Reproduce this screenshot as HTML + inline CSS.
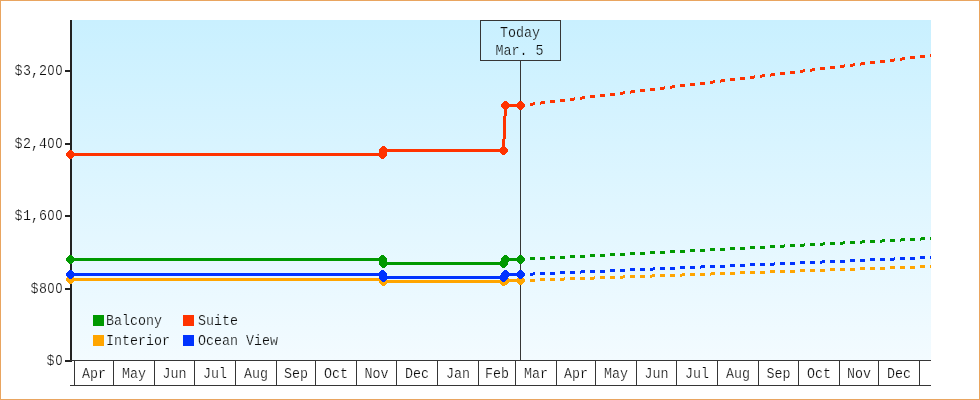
<!DOCTYPE html>
<html><head><meta charset="utf-8"><title>Price chart</title>
<style>
html,body{margin:0;padding:0;background:#fff;}
body{width:980px;height:400px;overflow:hidden;}
svg{display:block;}
svg{will-change:transform;}
text{font-family:"Liberation Mono",monospace;font-size:15px;fill:#0c0c0c;stroke-width:0.22px;}
.tw text{stroke:#fff;}
.tl text{stroke:#eefaff;}
.tt text{stroke:#cbf1ff;}
</style></head><body>
<svg width="980" height="400" viewBox="0 0 980 400">
<defs><linearGradient id="bg" x1="0" y1="0" x2="0" y2="1"><stop offset="0" stop-color="#c9f0ff"/><stop offset="1" stop-color="#f3fbff"/></linearGradient></defs>
<rect x="0" y="0" width="980" height="400" fill="#fff"/>
<rect x="0.5" y="0.5" width="979" height="399" fill="none" stroke="#e9a560" stroke-width="1"/>
<rect x="72" y="20" width="859" height="340" fill="url(#bg)"/>
<g shape-rendering="crispEdges" fill="#363636">
<rect x="70" y="20" width="2" height="342" fill="#222"/>
<rect x="65" y="70" width="6" height="2" fill="#222"/>
<rect x="65" y="143" width="6" height="2" fill="#222"/>
<rect x="65" y="215" width="6" height="2" fill="#222"/>
<rect x="65" y="288" width="6" height="2" fill="#222"/>
<rect x="65" y="360" width="6" height="2" fill="#222"/>
<rect x="70" y="360" width="861" height="1"/>
<rect x="70" y="385" width="861" height="1"/>
<rect x="74" y="360" width="1" height="25"/>
<rect x="113" y="360" width="1" height="25"/>
<rect x="154" y="360" width="1" height="25"/>
<rect x="194" y="360" width="1" height="25"/>
<rect x="235" y="360" width="1" height="25"/>
<rect x="276" y="360" width="1" height="25"/>
<rect x="315" y="360" width="1" height="25"/>
<rect x="356" y="360" width="1" height="25"/>
<rect x="396" y="360" width="1" height="25"/>
<rect x="437" y="360" width="1" height="25"/>
<rect x="478" y="360" width="1" height="25"/>
<rect x="515" y="360" width="1" height="25"/>
<rect x="556" y="360" width="1" height="25"/>
<rect x="595" y="360" width="1" height="25"/>
<rect x="636" y="360" width="1" height="25"/>
<rect x="676" y="360" width="1" height="25"/>
<rect x="717" y="360" width="1" height="25"/>
<rect x="758" y="360" width="1" height="25"/>
<rect x="798" y="360" width="1" height="25"/>
<rect x="839" y="360" width="1" height="25"/>
<rect x="878" y="360" width="1" height="25"/>
<rect x="919" y="360" width="1" height="25"/>
<rect x="520" y="60" width="1" height="300"/>
</g>
<rect x="480.5" y="20.5" width="80" height="40" fill="none" stroke="#363636" stroke-width="1" shape-rendering="crispEdges"/>
<g shape-rendering="crispEdges" fill="#ffa500" stroke="#ffa500"><path d="M70.5,279.5 L382.5,279.5 L383.5,281.5 L503.5,281.5 L505.5,280.5 L520.5,280.5" fill="none" stroke-width="3" stroke-linejoin="round"/><path d="M520,279h5v3h-5zM530,279h5v3h-5zM540,278h5v3h-5zM550,278h5v3h-5zM560,278h4v3h-4zM564,277h1v3h-1zM570,277h5v3h-5zM580,277h5v3h-5zM590,277h4v3h-4zM594,276h1v3h-1zM600,276h5v3h-5zM610,276h5v3h-5zM620,276h3v3h-3zM623,275h2v3h-2zM630,275h5v3h-5zM640,275h5v3h-5zM650,275h2v3h-2zM652,274h3v3h-3zM660,274h5v3h-5zM670,274h5v3h-5zM680,274h2v3h-2zM682,273h3v3h-3zM690,273h5v3h-5zM700,273h5v3h-5zM710,273h1v3h-1zM711,272h4v3h-4zM720,272h5v3h-5zM730,272h5v3h-5zM740,271h5v3h-5zM750,271h5v3h-5zM760,271h5v3h-5zM770,270h5v3h-5zM780,270h5v3h-5zM790,270h5v3h-5zM800,269h5v3h-5zM810,269h5v3h-5zM820,269h5v3h-5zM830,268h5v3h-5zM840,268h5v3h-5zM850,268h5v3h-5zM860,267h5v3h-5zM870,267h5v3h-5zM880,267h5v3h-5zM890,266h5v3h-5zM900,266h5v3h-5zM910,266h5v3h-5zM920,265h5v3h-5zM930,265h1v3h-1z" stroke="none"/><path transform="translate(70.5,279.5)" d="M-1.5,-4.5h3v1h1v1h1v1h1v3h-1v1h-1v1h-1v1h-3v-1h-1v-1h-1v-1h-1v-3h1v-1h1v-1h1z" stroke="none"/><path transform="translate(382.5,279.5)" d="M-1.5,-4.5h3v1h1v1h1v1h1v3h-1v1h-1v1h-1v1h-3v-1h-1v-1h-1v-1h-1v-3h1v-1h1v-1h1z" stroke="none"/><path transform="translate(383.5,281.5)" d="M-1.5,-4.5h3v1h1v1h1v1h1v3h-1v1h-1v1h-1v1h-3v-1h-1v-1h-1v-1h-1v-3h1v-1h1v-1h1z" stroke="none"/><path transform="translate(503.5,281.5)" d="M-1.5,-4.5h3v1h1v1h1v1h1v3h-1v1h-1v1h-1v1h-3v-1h-1v-1h-1v-1h-1v-3h1v-1h1v-1h1z" stroke="none"/><path transform="translate(505.5,280.5)" d="M-1.5,-4.5h3v1h1v1h1v1h1v3h-1v1h-1v1h-1v1h-3v-1h-1v-1h-1v-1h-1v-3h1v-1h1v-1h1z" stroke="none"/><path transform="translate(520.5,280.5)" d="M-1.5,-4.5h3v1h1v1h1v1h1v3h-1v1h-1v1h-1v1h-3v-1h-1v-1h-1v-1h-1v-3h1v-1h1v-1h1z" stroke="none"/></g>
<g shape-rendering="crispEdges" fill="#0033ff" stroke="#0033ff"><path d="M70.5,274.5 L382.5,274.5 L383.5,277.5 L503.5,277.5 L505.5,274.5 L520.5,274.5" fill="none" stroke-width="3" stroke-linejoin="round"/><path d="M520,273h5v3h-5zM530,273h3v3h-3zM533,272h2v3h-2zM540,272h5v3h-5zM550,272h5v3h-5zM560,271h5v3h-5zM570,271h5v3h-5zM580,271h1v3h-1zM581,270h4v3h-4zM590,270h5v3h-5zM600,270h5v3h-5zM610,269h5v3h-5zM620,269h5v3h-5zM630,268h5v3h-5zM640,268h5v3h-5zM650,268h3v3h-3zM653,267h2v3h-2zM660,267h5v3h-5zM670,267h5v3h-5zM680,266h5v3h-5zM690,266h5v3h-5zM700,266h1v3h-1zM701,265h4v3h-4zM710,265h5v3h-5zM720,265h5v3h-5zM730,264h5v3h-5zM740,264h5v3h-5zM750,263h5v3h-5zM760,263h5v3h-5zM770,263h4v3h-4zM774,262h1v3h-1zM780,262h5v3h-5zM790,262h5v3h-5zM800,261h5v3h-5zM810,261h5v3h-5zM820,261h2v3h-2zM822,260h3v3h-3zM830,260h5v3h-5zM840,260h5v3h-5zM850,259h5v3h-5zM860,259h5v3h-5zM870,258h5v3h-5zM880,258h5v3h-5zM890,258h4v3h-4zM894,257h1v3h-1zM900,257h5v3h-5zM910,257h5v3h-5zM920,256h5v3h-5zM930,256h1v3h-1z" stroke="none"/><path transform="translate(70.5,274.5)" d="M-1.5,-4.5h3v1h1v1h1v1h1v3h-1v1h-1v1h-1v1h-3v-1h-1v-1h-1v-1h-1v-3h1v-1h1v-1h1z" stroke="none"/><path transform="translate(382.5,274.5)" d="M-1.5,-4.5h3v1h1v1h1v1h1v3h-1v1h-1v1h-1v1h-3v-1h-1v-1h-1v-1h-1v-3h1v-1h1v-1h1z" stroke="none"/><path transform="translate(383.5,277.5)" d="M-1.5,-4.5h3v1h1v1h1v1h1v3h-1v1h-1v1h-1v1h-3v-1h-1v-1h-1v-1h-1v-3h1v-1h1v-1h1z" stroke="none"/><path transform="translate(503.5,277.5)" d="M-1.5,-4.5h3v1h1v1h1v1h1v3h-1v1h-1v1h-1v1h-3v-1h-1v-1h-1v-1h-1v-3h1v-1h1v-1h1z" stroke="none"/><path transform="translate(505.5,274.5)" d="M-1.5,-4.5h3v1h1v1h1v1h1v3h-1v1h-1v1h-1v1h-3v-1h-1v-1h-1v-1h-1v-3h1v-1h1v-1h1z" stroke="none"/><path transform="translate(520.5,274.5)" d="M-1.5,-4.5h3v1h1v1h1v1h1v3h-1v1h-1v1h-1v1h-3v-1h-1v-1h-1v-1h-1v-3h1v-1h1v-1h1z" stroke="none"/></g>
<g shape-rendering="crispEdges" fill="#009900" stroke="#009900"><path d="M70.5,259.5 L382.5,259.5 L383.5,263.5 L503.5,263.5 L505.5,259.5 L520.5,259.5" fill="none" stroke-width="3" stroke-linejoin="round"/><path d="M520,258h5v3h-5zM530,257h5v3h-5zM540,257h5v3h-5zM550,256h5v3h-5zM560,256h5v3h-5zM570,255h5v3h-5zM580,255h5v3h-5zM590,254h5v3h-5zM600,254h5v3h-5zM610,253h5v3h-5zM620,253h5v3h-5zM630,252h5v3h-5zM640,252h5v3h-5zM650,251h5v3h-5zM660,251h5v3h-5zM670,250h5v3h-5zM680,250h5v3h-5zM690,249h5v3h-5zM700,249h5v3h-5zM710,248h5v3h-5zM720,248h5v3h-5zM730,247h5v3h-5zM740,247h5v3h-5zM750,246h5v3h-5zM760,246h5v3h-5zM770,245h5v3h-5zM780,245h4v3h-4zM784,244h1v3h-1zM790,244h5v3h-5zM800,244h4v3h-4zM804,243h1v3h-1zM810,243h5v3h-5zM820,243h3v3h-3zM823,242h2v3h-2zM830,242h5v3h-5zM840,242h3v3h-3zM843,241h2v3h-2zM850,241h5v3h-5zM860,241h2v3h-2zM862,240h3v3h-3zM870,240h5v3h-5zM880,240h2v3h-2zM882,239h3v3h-3zM890,239h5v3h-5zM900,239h1v3h-1zM901,238h4v3h-4zM910,238h5v3h-5zM920,238h1v3h-1zM921,237h4v3h-4zM930,237h1v3h-1z" stroke="none"/><path transform="translate(70.5,259.5)" d="M-1.5,-4.5h3v1h1v1h1v1h1v3h-1v1h-1v1h-1v1h-3v-1h-1v-1h-1v-1h-1v-3h1v-1h1v-1h1z" stroke="none"/><path transform="translate(382.5,259.5)" d="M-1.5,-4.5h3v1h1v1h1v1h1v3h-1v1h-1v1h-1v1h-3v-1h-1v-1h-1v-1h-1v-3h1v-1h1v-1h1z" stroke="none"/><path transform="translate(383.5,263.5)" d="M-1.5,-4.5h3v1h1v1h1v1h1v3h-1v1h-1v1h-1v1h-3v-1h-1v-1h-1v-1h-1v-3h1v-1h1v-1h1z" stroke="none"/><path transform="translate(503.5,263.5)" d="M-1.5,-4.5h3v1h1v1h1v1h1v3h-1v1h-1v1h-1v1h-3v-1h-1v-1h-1v-1h-1v-3h1v-1h1v-1h1z" stroke="none"/><path transform="translate(505.5,259.5)" d="M-1.5,-4.5h3v1h1v1h1v1h1v3h-1v1h-1v1h-1v1h-3v-1h-1v-1h-1v-1h-1v-3h1v-1h1v-1h1z" stroke="none"/><path transform="translate(520.5,259.5)" d="M-1.5,-4.5h3v1h1v1h1v1h1v3h-1v1h-1v1h-1v1h-3v-1h-1v-1h-1v-1h-1v-3h1v-1h1v-1h1z" stroke="none"/></g>
<g shape-rendering="crispEdges" fill="#ff3300" stroke="#ff3300"><path d="M70.5,154.5 L382.5,154.5 L383.5,150.5 L503.5,150.5 L505.5,105.5 L520.5,105.5" fill="none" stroke-width="3" stroke-linejoin="round"/><path d="M520,104h5v3h-5zM530,103h3v3h-3zM533,102h2v3h-2zM540,102h1v3h-1zM541,101h4v3h-4zM550,100h5v3h-5zM560,99h5v3h-5zM570,98h4v3h-4zM574,97h1v3h-1zM580,97h2v3h-2zM582,96h3v3h-3zM590,95h5v3h-5zM600,94h5v3h-5zM610,93h5v3h-5zM620,92h3v3h-3zM623,91h2v3h-2zM630,91h1v3h-1zM631,90h4v3h-4zM640,89h5v3h-5zM650,88h5v3h-5zM660,87h4v3h-4zM664,86h1v3h-1zM670,86h2v3h-2zM672,85h3v3h-3zM680,84h5v3h-5zM690,83h5v3h-5zM700,82h5v3h-5zM710,81h3v3h-3zM713,80h2v3h-2zM720,80h1v3h-1zM721,79h4v3h-4zM730,78h5v3h-5zM740,77h5v3h-5zM750,76h4v3h-4zM754,75h1v3h-1zM760,75h2v3h-2zM762,74h3v3h-3zM770,74h1v3h-1zM771,73h4v3h-4zM780,72h5v3h-5zM790,71h5v3h-5zM800,70h3v3h-3zM803,69h2v3h-2zM810,69h2v3h-2zM812,68h3v3h-3zM820,67h5v3h-5zM830,66h5v3h-5zM840,65h4v3h-4zM844,64h1v3h-1zM850,64h3v3h-3zM853,63h2v3h-2zM860,63h1v3h-1zM861,62h4v3h-4zM870,61h5v3h-5zM880,60h5v3h-5zM890,59h4v3h-4zM894,58h1v3h-1zM900,58h2v3h-2zM902,57h3v3h-3zM910,56h5v3h-5zM920,55h5v3h-5zM930,54h1v3h-1z" stroke="none"/><path transform="translate(70.5,154.5)" d="M-1.5,-4.5h3v1h1v1h1v1h1v3h-1v1h-1v1h-1v1h-3v-1h-1v-1h-1v-1h-1v-3h1v-1h1v-1h1z" stroke="none"/><path transform="translate(382.5,154.5)" d="M-1.5,-4.5h3v1h1v1h1v1h1v3h-1v1h-1v1h-1v1h-3v-1h-1v-1h-1v-1h-1v-3h1v-1h1v-1h1z" stroke="none"/><path transform="translate(383.5,150.5)" d="M-1.5,-4.5h3v1h1v1h1v1h1v3h-1v1h-1v1h-1v1h-3v-1h-1v-1h-1v-1h-1v-3h1v-1h1v-1h1z" stroke="none"/><path transform="translate(503.5,150.5)" d="M-1.5,-4.5h3v1h1v1h1v1h1v3h-1v1h-1v1h-1v1h-3v-1h-1v-1h-1v-1h-1v-3h1v-1h1v-1h1z" stroke="none"/><path transform="translate(505.5,105.5)" d="M-1.5,-4.5h3v1h1v1h1v1h1v3h-1v1h-1v1h-1v1h-3v-1h-1v-1h-1v-1h-1v-3h1v-1h1v-1h1z" stroke="none"/><path transform="translate(520.5,105.5)" d="M-1.5,-4.5h3v1h1v1h1v1h1v3h-1v1h-1v1h-1v1h-3v-1h-1v-1h-1v-1h-1v-3h1v-1h1v-1h1z" stroke="none"/></g>
<rect x="93" y="315" width="11" height="11" fill="#009900" shape-rendering="crispEdges"/>
<rect x="183" y="315" width="11" height="11" fill="#ff3300" shape-rendering="crispEdges"/>
<rect x="93" y="335" width="11" height="11" fill="#ffa500" shape-rendering="crispEdges"/>
<rect x="183" y="335" width="11" height="11" fill="#0033ff" shape-rendering="crispEdges"/>
<g class="tl">
<text x="106" y="325" textLength="56" lengthAdjust="spacingAndGlyphs" xml:space="preserve">Balcony</text>
<text x="198" y="325" textLength="40" lengthAdjust="spacingAndGlyphs" xml:space="preserve">Suite</text>
<text x="106" y="345" textLength="64" lengthAdjust="spacingAndGlyphs" xml:space="preserve">Interior</text>
<text x="198" y="345" textLength="80" lengthAdjust="spacingAndGlyphs" xml:space="preserve">Ocean View</text>
</g>
<g class="tw">
<text transform="translate(18.4,75) scale(0.889,1)" text-anchor="middle">$</text><text transform="translate(27,75) scale(0.889,1)" text-anchor="middle">3</text><text transform="translate(35,75) scale(0.889,1)" text-anchor="middle">,</text><text transform="translate(43,75) scale(0.889,1)" text-anchor="middle">2</text><text transform="translate(51,75) scale(0.86,1)" text-anchor="middle" style="font-family:'Liberation Sans',sans-serif;font-size:14.4px">0</text><text transform="translate(59,75) scale(0.86,1)" text-anchor="middle" style="font-family:'Liberation Sans',sans-serif;font-size:14.4px">0</text>
<text transform="translate(18.4,148) scale(0.889,1)" text-anchor="middle">$</text><text transform="translate(27,148) scale(0.889,1)" text-anchor="middle">2</text><text transform="translate(35,148) scale(0.889,1)" text-anchor="middle">,</text><text transform="translate(43,148) scale(0.889,1)" text-anchor="middle">4</text><text transform="translate(51,148) scale(0.86,1)" text-anchor="middle" style="font-family:'Liberation Sans',sans-serif;font-size:14.4px">0</text><text transform="translate(59,148) scale(0.86,1)" text-anchor="middle" style="font-family:'Liberation Sans',sans-serif;font-size:14.4px">0</text>
<text transform="translate(18.4,220) scale(0.889,1)" text-anchor="middle">$</text><text transform="translate(27,220) scale(0.889,1)" text-anchor="middle">1</text><text transform="translate(35,220) scale(0.889,1)" text-anchor="middle">,</text><text transform="translate(43,220) scale(0.889,1)" text-anchor="middle">6</text><text transform="translate(51,220) scale(0.86,1)" text-anchor="middle" style="font-family:'Liberation Sans',sans-serif;font-size:14.4px">0</text><text transform="translate(59,220) scale(0.86,1)" text-anchor="middle" style="font-family:'Liberation Sans',sans-serif;font-size:14.4px">0</text>
<text transform="translate(34.4,293) scale(0.889,1)" text-anchor="middle">$</text><text transform="translate(43,293) scale(0.889,1)" text-anchor="middle">8</text><text transform="translate(51,293) scale(0.86,1)" text-anchor="middle" style="font-family:'Liberation Sans',sans-serif;font-size:14.4px">0</text><text transform="translate(59,293) scale(0.86,1)" text-anchor="middle" style="font-family:'Liberation Sans',sans-serif;font-size:14.4px">0</text>
<text transform="translate(50.4,365) scale(0.889,1)" text-anchor="middle">$</text><text transform="translate(59,365) scale(0.86,1)" text-anchor="middle" style="font-family:'Liberation Sans',sans-serif;font-size:14.4px">0</text>
<text x="82" y="377.5" textLength="24" lengthAdjust="spacingAndGlyphs" xml:space="preserve">Apr</text>
<text x="122" y="377.5" textLength="24" lengthAdjust="spacingAndGlyphs" xml:space="preserve">May</text>
<text x="162.5" y="377.5" textLength="24" lengthAdjust="spacingAndGlyphs" xml:space="preserve">Jun</text>
<text x="203" y="377.5" textLength="24" lengthAdjust="spacingAndGlyphs" xml:space="preserve">Jul</text>
<text x="244" y="377.5" textLength="24" lengthAdjust="spacingAndGlyphs" xml:space="preserve">Aug</text>
<text x="284" y="377.5" textLength="24" lengthAdjust="spacingAndGlyphs" xml:space="preserve">Sep</text>
<text x="324" y="377.5" textLength="24" lengthAdjust="spacingAndGlyphs" xml:space="preserve">Oct</text>
<text x="364.5" y="377.5" textLength="24" lengthAdjust="spacingAndGlyphs" xml:space="preserve">Nov</text>
<text x="405" y="377.5" textLength="24" lengthAdjust="spacingAndGlyphs" xml:space="preserve">Dec</text>
<text x="446" y="377.5" textLength="24" lengthAdjust="spacingAndGlyphs" xml:space="preserve">Jan</text>
<text x="485" y="377.5" textLength="24" lengthAdjust="spacingAndGlyphs" xml:space="preserve">Feb</text>
<text x="524" y="377.5" textLength="24" lengthAdjust="spacingAndGlyphs" xml:space="preserve">Mar</text>
<text x="564" y="377.5" textLength="24" lengthAdjust="spacingAndGlyphs" xml:space="preserve">Apr</text>
<text x="604" y="377.5" textLength="24" lengthAdjust="spacingAndGlyphs" xml:space="preserve">May</text>
<text x="644.5" y="377.5" textLength="24" lengthAdjust="spacingAndGlyphs" xml:space="preserve">Jun</text>
<text x="685" y="377.5" textLength="24" lengthAdjust="spacingAndGlyphs" xml:space="preserve">Jul</text>
<text x="726" y="377.5" textLength="24" lengthAdjust="spacingAndGlyphs" xml:space="preserve">Aug</text>
<text x="766.5" y="377.5" textLength="24" lengthAdjust="spacingAndGlyphs" xml:space="preserve">Sep</text>
<text x="807" y="377.5" textLength="24" lengthAdjust="spacingAndGlyphs" xml:space="preserve">Oct</text>
<text x="847" y="377.5" textLength="24" lengthAdjust="spacingAndGlyphs" xml:space="preserve">Nov</text>
<text x="887" y="377.5" textLength="24" lengthAdjust="spacingAndGlyphs" xml:space="preserve">Dec</text>
</g>
<g class="tt">
<text x="500" y="37" textLength="40" lengthAdjust="spacingAndGlyphs" xml:space="preserve">Today</text>
<text x="495.5" y="55" textLength="48" lengthAdjust="spacingAndGlyphs" xml:space="preserve">Mar. 5</text>
</g>
</svg>
</body></html>
